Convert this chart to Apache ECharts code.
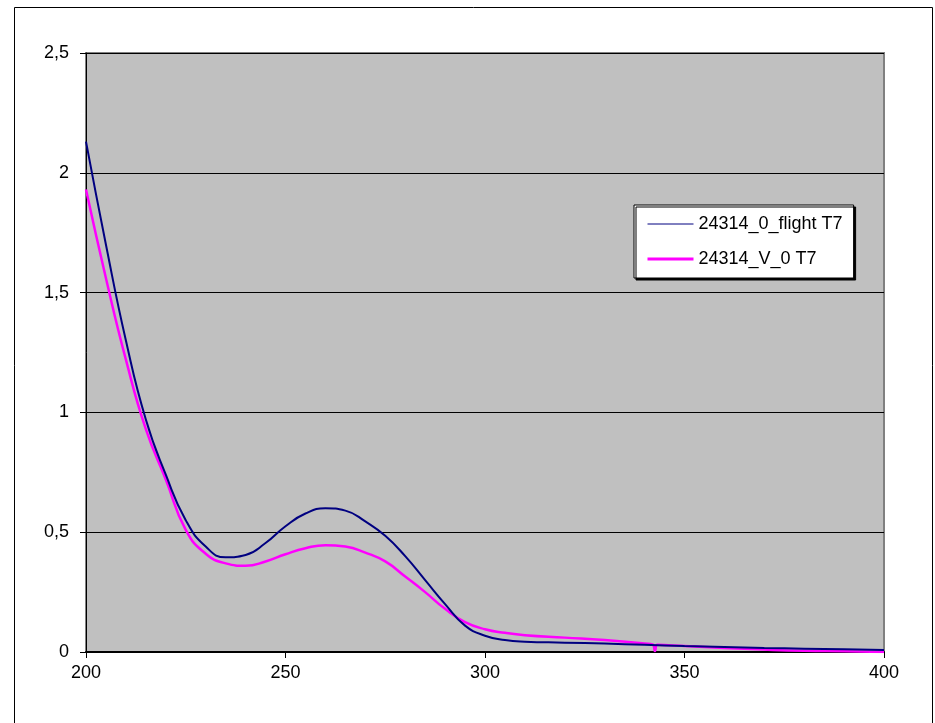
<!DOCTYPE html>
<html>
<head>
<meta charset="utf-8">
<script src="https://cdn.jsdelivr.net/npm/echarts@6/dist/echarts.min.js"></script>
<style>
  html, body { margin: 0; padding: 0; background: #fff; }
  #chart { width: 935px; height: 723px; }
</style>
</head>
<body>
<div id="chart"></div>
<script>
// wavelength (nm) -> absorbance
var flightX = [200, 205, 210, 215, 220, 225, 230, 235, 240, 245, 250, 255, 260, 265, 270, 275, 280, 285, 290, 295, 300, 305, 310, 320, 330, 340, 350, 360, 370, 380, 390, 400];
var flightY = [2.13, 1.70, 1.30, 0.97, 0.74, 0.55, 0.44, 0.395, 0.405, 0.455, 0.525, 0.578, 0.60, 0.59, 0.545, 0.485, 0.40, 0.30, 0.20, 0.11, 0.068, 0.05, 0.043, 0.039, 0.035, 0.03, 0.025, 0.021, 0.017, 0.014, 0.011, 0.008];

var vX = [200, 205, 210, 215, 220, 225, 230, 235, 240, 245, 250, 255, 260, 265, 270, 275, 280, 285, 290, 295, 300, 305, 310, 320, 330, 340, 342, 342.6, 343.2, 350, 360, 370, 380, 390, 400];
var vY = [1.93, 1.56, 1.22, 0.93, 0.72, 0.51, 0.41, 0.37, 0.36, 0.378, 0.408, 0.433, 0.446, 0.44, 0.415, 0.378, 0.315, 0.25, 0.18, 0.125, 0.095, 0.08, 0.07, 0.06, 0.05, 0.035, 0.032, 0.004, 0.03, 0.025, 0.017, 0.01, 0.005, 0.003, 0.0];

var seriesNames = ['24314_0_flight T7', '24314_V_0 T7'];
var seriesColors = ['#000080', '#ff00ff'];

var yTicks = [0, 0.5, 1, 1.5, 2, 2.5];
var xTicks = [200, 250, 300, 350, 400];

function pairs(xs, ys) {
  return xs.map(function (x, i) { return [x, ys[i]]; });
}

var font = 'Arial, "Liberation Sans", sans-serif';

var option = {
  animation: false,
  backgroundColor: '#fff',
  graphic: [{
    type: 'rect',
    shape: { x: 14.5, y: 7.5, width: 918, height: 740 },
    style: { fill: 'none', stroke: '#000', lineWidth: 1 },
    silent: true
  }],
  grid: {
    left: 86, right: 51, top: 53, bottom: 71,
    show: true,
    backgroundColor: '#c0c0c0',
    borderColor: '#808080',
    borderWidth: 2
  },
  legend: {
    show: true,
    orient: 'vertical',
    left: 634, top: 205,
    padding: [10, 11, 10, 12],
    itemWidth: 46, itemHeight: 14, itemGap: 17,
    backgroundColor: '#fff',
    borderColor: '#000', borderWidth: 1,
    shadowColor: '#000', shadowBlur: 0, shadowOffsetX: 2, shadowOffsetY: 2,
    textStyle: { fontFamily: font, fontSize: 18, color: '#000' },
    data: [
      { name: seriesNames[0], itemStyle: { opacity: 0 }, lineStyle: { width: 1, color: seriesColors[0] } },
      { name: seriesNames[1], itemStyle: { opacity: 0 }, lineStyle: { width: 3, color: seriesColors[1] } }
    ]
  },
  xAxis: {
    type: 'value',
    min: xTicks[0], max: xTicks[xTicks.length - 1], interval: 50,
    axisLine: { onZero: false, lineStyle: { color: '#000', width: 2 } },
    axisTick: { show: true, length: 6, lineStyle: { color: '#000' } },
    axisLabel: { fontFamily: font, fontSize: 18, color: '#000', margin: 12 },
    splitLine: { show: false }
  },
  yAxis: {
    type: 'value',
    min: yTicks[0], max: yTicks[yTicks.length - 1], interval: 0.5,
    axisLine: { show: true, lineStyle: { color: '#000', width: 1 } },
    axisTick: { show: true, length: 6, lineStyle: { color: '#000' } },
    axisLabel: {
      fontFamily: font, fontSize: 18, color: '#000', margin: 17,
      formatter: function (v) { return String(v).replace('.', ','); }
    },
    splitLine: { show: true, lineStyle: { color: '#000', width: 1 } }
  },
  series: [
    {
      name: seriesNames[0], type: 'line', data: pairs(flightX, flightY),
      symbol: 'none', showSymbol: false, smooth: 0.5,
      lineStyle: { color: seriesColors[0], width: 2 },
      itemStyle: { color: seriesColors[0] }, z: 3
    },
    {
      name: seriesNames[1], type: 'line', data: pairs(vX, vY),
      symbol: 'none', showSymbol: false, smooth: 0.5,
      lineStyle: { color: seriesColors[1], width: 2.5 },
      itemStyle: { color: seriesColors[1] }, z: 2
    }
  ]
};

var chart = echarts.init(document.getElementById('chart'));
chart.setOption(option);
</script>
</body>
</html>
